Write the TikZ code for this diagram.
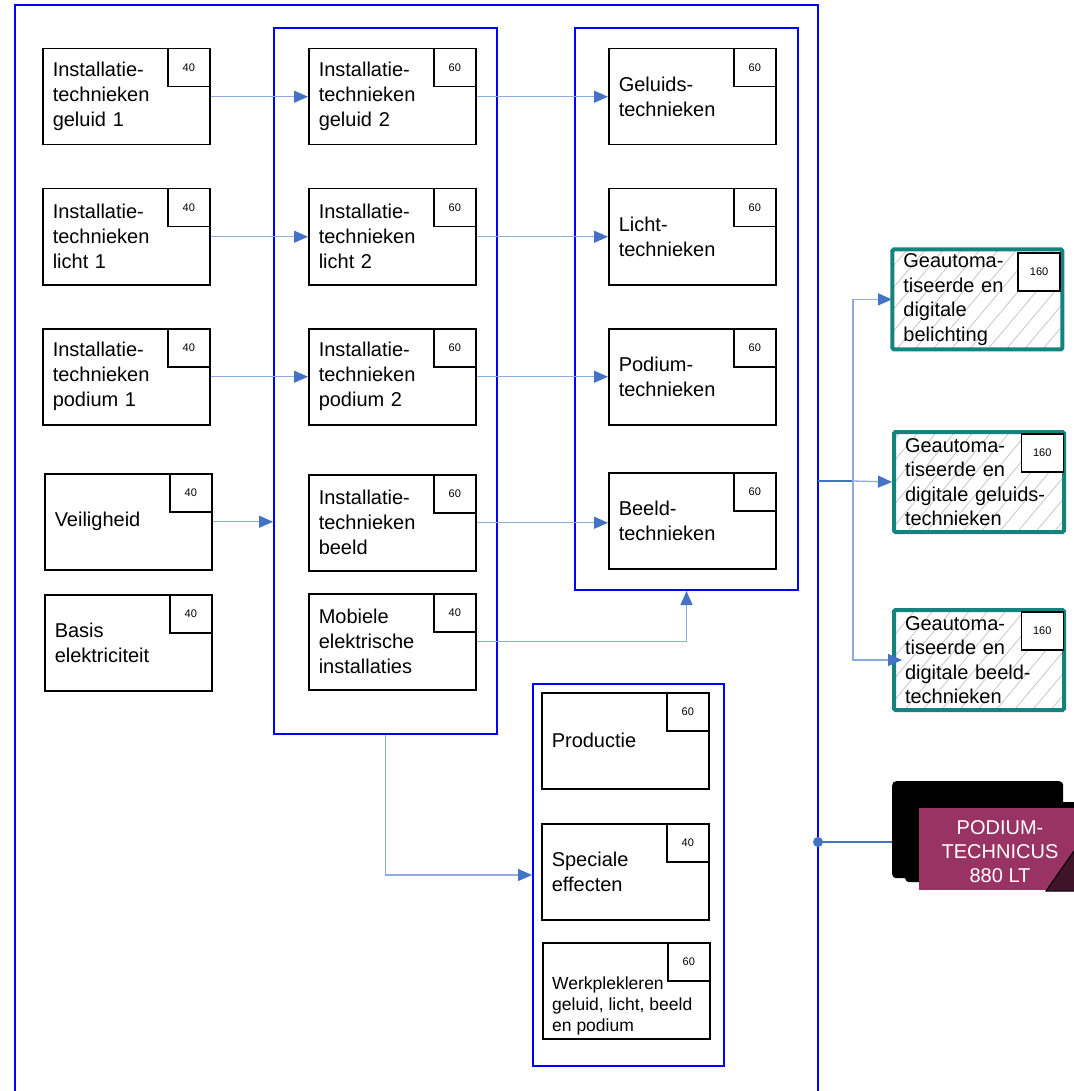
\documentclass[tikz,border=0pt]{standalone}
\usepackage{fontspec}
\setmainfont{Liberation Sans}
\usetikzlibrary{arrows.meta,patterns.meta,calc}
\definecolor{contblue}{RGB}{0,0,255}
\definecolor{connc}{RGB}{143,170,220}
\definecolor{tipc}{RGB}{68,114,196}
\definecolor{tealb}{RGB}{20,130,125}
\definecolor{magent}{RGB}{153,51,99}
\tikzset{
 modbox/.style={draw=black, line width=1.5pt, fill=white, minimum width=167pt, minimum height=96pt,
   text width=147pt, inner xsep=10pt, inner ysep=0pt, align=left,
   font=\fontsize{20}{25}\selectfont, anchor=north west},
 numbox/.style={draw=black, line width=1.5pt, fill=white, minimum width=42pt, minimum height=38pt,
   inner sep=0pt, font=\fontsize{11}{13}\selectfont, anchor=north east},
 cont/.style={draw=contblue, line width=2pt, anchor=north west, inner sep=0pt},
 hatchbox/.style={draw=tealb, line width=4pt, rounded corners=1.5pt,
   pattern={Lines[angle=50,distance=14pt,line width=0.8pt]}, pattern color=gray!45,
   minimum width=170pt, minimum height=100pt, text width=148pt, inner xsep=11pt, inner ysep=0pt,
   align=left, anchor=north west, font=\fontsize{20}{24.5}\selectfont},
 conn/.style={draw=connc, line width=1.3pt, -{Triangle[length=14pt,width=12pt,color=tipc]}},
 connline/.style={draw=tipc, line width=1.3pt},
 outerbox/.style={draw=contblue, line width=2pt},
}
\newcommand\modul[5]{%
 \node[modbox] (#1) at (#2,#3) {#5};
 \node[numbox] (#1n) at (#1.north east) {#4};}
\begin{document}
\begin{tikzpicture}[x=1pt,y=-1pt]
\useasboundingbox (0,0) rectangle (1073,1091);
% outer container
\draw[outerbox] (15,1095) -- (15,5) -- (818,5) -- (818,1095);
\coordinate (oh) at (818,481);
\coordinate (j) at (853,481);
\coordinate (od) at (818,842);
% containers
\node[cont, minimum width=223pt, minimum height=706pt] (midc) at (273,27) {};
\node[cont, minimum width=223pt, minimum height=562pt] (rc) at (574,27) {};
\node[cont, minimum width=191pt, minimum height=382pt] (bc) at (532,683) {};
% left column
\modul{l1}{42}{48}{40}{Installatie-\\technieken\\geluid 1}
\modul{l2}{42}{188}{40}{Installatie-\\technieken\\licht 1}
\modul{l3}{42}{328}{40}{Installatie-\\technieken\\podium 1}
\modul{l4}{44}{473}{40}{Veiligheid}
\modul{l5}{44}{594}{40}{Basis\\elektriciteit}
% middle column
\modul{m1}{308}{48}{60}{Installatie-\\technieken\\geluid 2}
\modul{m2}{308}{188}{60}{Installatie-\\technieken\\licht 2}
\modul{m3}{308}{328}{60}{Installatie-\\technieken\\podium 2}
\modul{m4}{308}{474}{60}{Installatie-\\technieken\\beeld}
\modul{m5}{308}{593}{40}{Mobiele\\elektrische\\installaties}
% right column
\modul{r1}{608}{48}{60}{Geluids-\\technieken}
\modul{r2}{608}{188}{60}{Licht-\\technieken}
\modul{r3}{608}{328}{60}{Podium-\\technieken}
\modul{r4}{608}{472}{60}{Beeld-\\technieken}
% bottom column
\modul{b1}{541}{692}{60}{Productie}
\modul{b2}{541}{823}{40}{Speciale\\effecten}
\modul{b3}{542}{942}{60}{}
\node[anchor=west, align=left, inner sep=0pt, font=\fontsize{17.5}{21}\selectfont] (b3t)
  at ($(b3.west)+(10,15)$) {Werkplekleren\\geluid, licht, beeld\\en podium};
% connectors
\draw[conn] (l1.east) -- (m1.west);
\draw[conn] (l2.east) -- (m2.west);
\draw[conn] (l3.east) -- (m3.west);
\draw[conn] (l4.east) -- (l4.east -| midc.west);
\draw[conn] (m1.east) -- (r1.west);
\draw[conn] (m2.east) -- (r2.west);
\draw[conn] (m3.east) -- (r3.west);
\draw[conn] (m4.east) -- (m4.east -| r4.west);
\draw[conn] (m5.east) -| (rc.south);
\draw[conn] (midc.south) |- (bc.west);
% hatched targets
\node[hatchbox] (h1) at (892,249) {Geautoma-\\tiseerde en\\digitale\\belichting};
\node[numbox] (h1n) at ($(h1.north east)+(-2,3)$) {160};
\node[hatchbox] (h2) at (892,430) {Geautoma-\\tiseerde en\\digitale geluids-\\technieken};
\node[numbox] (h2n) at ($(h2.north east)+(-2,3)$) {160};
\node[hatchbox] (h3) at (892,608) {Geautoma-\\tiseerde en\\digitale beeld-\\technieken};
\node[numbox] (h3n) at ($(h3.north east)+(-2,3)$) {160};
\draw[connline] (oh) -- (j);
\draw[conn] (j) |- (h1.west);
\draw[conn] (j) -- (h2.west);
\draw[conn] (j) |- ($(h3.west)+(10,0)$);
% podium technicus
\node[fill=black, rounded corners=4pt, minimum width=171pt, minimum height=97pt, anchor=north west, inner sep=0pt] (pb) at (892,781) {};
\node[fill=black, rounded corners=4pt, minimum width=180pt, minimum height=80pt, anchor=north west, inner sep=0pt] (pm) at (905,802) {};
\node[fill=magent, minimum width=162pt, minimum height=82pt, anchor=north west, inner sep=0pt] (pt) at (919,808) {};
\fill[black!60!magent, draw=black, line width=1pt] (1046,891) -- (1076,848) -- (1076,891) -- cycle;
\node[text=white, align=center, font=\fontsize{20}{24}\selectfont, inner sep=0pt] (ptt) at (1000,852) {PODIUM-\\TECHNICUS\\880 LT};
\draw[connline] (od) -- (od -| pb.west);
\fill[tipc] (od) circle (5pt);
\end{tikzpicture}
\end{document}
